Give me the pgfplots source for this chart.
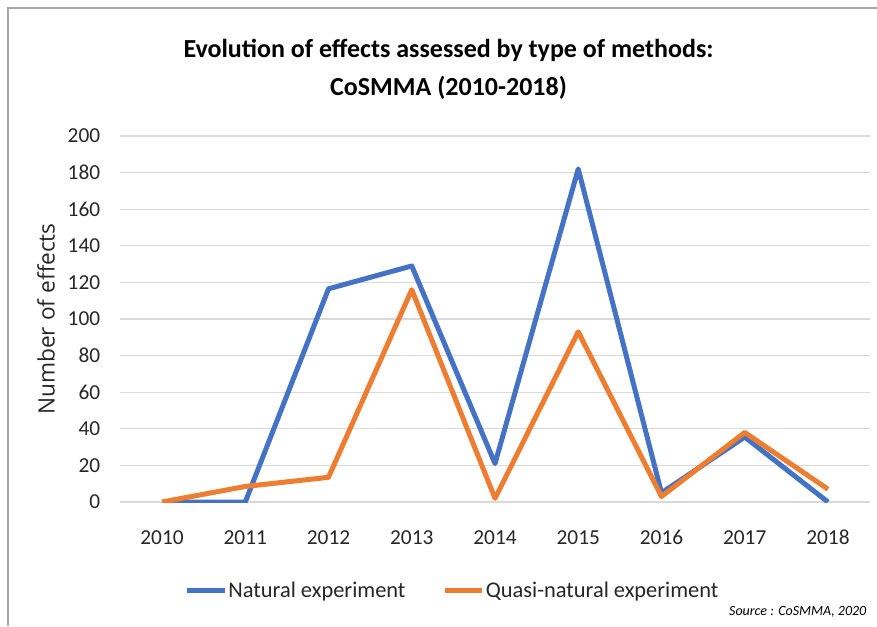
\documentclass[border=0pt]{standalone}
\usepackage{fontspec}
\setmainfont{Carlito}
\newfontfamily\ylabfont{Open Sans}
\usepackage{pgfplots}
\pgfplotsset{compat=1.18}
\definecolor{cblue}{HTML}{4472C4}
\definecolor{corange}{HTML}{ED7D31}
\definecolor{cgrid}{HTML}{D9D9D9}
\newcommand\Pt[2]{({(#1)*0.75pt},{(626-(#2))*0.75pt})}
\begin{document}
\begin{tikzpicture}
\path[use as bounding box] (0,0) rectangle (657.75pt,469.5pt);
\draw[color=black!35, line width=1pt] \Pt{8}{626} -- \Pt{8}{8} -- \Pt{877}{8};
\node[font=\bfseries\fontsize{19.5}{22}\selectfont, anchor=center] at \Pt{448.5}{50} {Evolution of effects assessed by type of methods:};
\node[font=\bfseries\fontsize{19.5}{22}\selectfont, anchor=center] at \Pt{448.5}{88} {CoSMMA (2010-2018)};
\begin{axis}[
  at={(90.3pt,93pt)}, anchor=south west,
  scale only axis, width=561.9pt, height=274.5pt,
  xmin=-0.5, xmax=8.5, ymin=0, ymax=200,
  axis line style={draw=none},
  major tick length=0pt,
  ytick={0,20,...,200},
  xtick={0,...,8},
  xticklabels={2010,2011,2012,2013,2014,2015,2016,2017,2018},
  ymajorgrids, major grid style={cgrid, line width=1pt},
  /pgf/number format/assume math mode=true,
  tick label style={font=\fontsize{16}{18}\selectfont, text=black!85},
  yticklabel style={anchor=east, inner sep=0pt, xshift=-15pt},
  xticklabel style={anchor=north, inner sep=0pt, yshift=-21pt},
  ylabel={\ylabfont Number of effects},
  every axis y label/.style={at={(axis description cs:-0.0993,0.5)}, rotate=90, anchor=center,
    font=\fontsize{17}{20}\selectfont, text=black!85},
  legend columns=2,
  legend style={draw=none, at={(axis description cs:0.443,-0.243)}, anchor=center,
    font=\fontsize{16.8}{19}\selectfont, text=black!85,
    nodes={inner xsep=1pt},
    /tikz/every even column/.append style={column sep=26.5pt}},
  legend image code/.code={\draw[#1, line width=3.75pt] (0pt,0pt) -- (28pt,0pt);},
  line join=round,
]
\addplot[cblue, line width=3.75pt] coordinates {
(0,0) (1,0) (2,116.5) (3,129) (4,21) (5,182) (6,5) (7,35.5) (8,0)};
\addlegendentry{Natural experiment}
\addplot[corange, line width=3.75pt] coordinates {
(0,0) (1,8.5) (2,13.5) (3,116) (4,2) (5,93) (6,3) (7,38) (8,7)};
\addlegendentry{Quasi-natural experiment}
\end{axis}
\node[font=\itshape\fontsize{10.5}{12}\selectfont, anchor=base east] at \Pt{871}{615} {Source : CoSMMA, 2020};
\end{tikzpicture}
\end{document}
